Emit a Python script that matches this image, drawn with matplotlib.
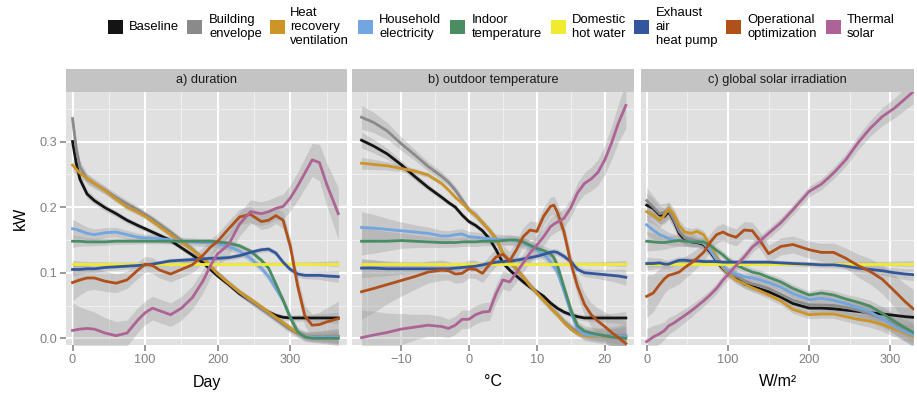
import numpy as np
import matplotlib
matplotlib.use("Agg")
import matplotlib.pyplot as plt
from matplotlib.patches import Rectangle

plt.rcParams['font.family'] = ['Liberation Sans', 'DejaVu Sans']

# ---------------- data ----------------
series = ["Baseline", "Building\nenvelope", "Heat\nrecovery\nventilation",
          "Household\nelectricity", "Indoor\ntemperature", "Domestic\nhot water",
          "Exhaust\nair\nheat pump", "Operational\noptimization", "Thermal\nsolar"]
colors = ['#141414', '#8A8A8A', '#CD9526', '#73A5E0', '#4A8D62',
          '#F0EA30', '#33579D', '#B0501B', '#AE6397']

# a) duration
days = [0, 5, 10, 20, 30, 45, 60, 75, 90, 100, 110, 120, 135, 150, 165, 180, 190, 200,
        215, 230, 245, 260, 270, 280, 290, 300, 310, 320, 330, 340, 350, 366]
a_baseline = [0.300, 0.268, 0.243, 0.220, 0.210, 0.199, 0.190, 0.180, 0.172, 0.167,
              0.162, 0.157, 0.149, 0.138, 0.127, 0.115, 0.105, 0.095, 0.082, 0.068,
              0.057, 0.046, 0.040, 0.035, 0.032, 0.031, 0.031, 0.031, 0.031, 0.031,
              0.031, 0.031]
a_building = [0.335, 0.290, 0.262, 0.243, 0.236, 0.226, 0.215, 0.205, 0.196, 0.189,
              0.182, 0.174, 0.162, 0.149, 0.136, 0.121, 0.109, 0.099, 0.084, 0.070,
              0.057, 0.045, 0.037, 0.029, 0.021, 0.013, 0.007, 0.004, 0.003, 0.003,
              0.003, 0.003]
a_hrv = [0.264, 0.258, 0.252, 0.244, 0.236, 0.225, 0.212, 0.200, 0.192, 0.186,
         0.178, 0.170, 0.158, 0.146, 0.135, 0.122, 0.110, 0.098, 0.084, 0.071,
         0.060, 0.048, 0.040, 0.032, 0.024, 0.016, 0.008, 0.004, 0.002, 0.002,
         0.002, 0.002]
a_household = [0.167, 0.166, 0.164, 0.160, 0.158, 0.161, 0.162, 0.158, 0.154, 0.153,
               0.153, 0.152, 0.150, 0.148, 0.147, 0.146, 0.146, 0.144, 0.140, 0.133,
               0.122, 0.107, 0.094, 0.076, 0.058, 0.032, 0.010, 0.003, 0.002, 0.002,
               0.002, 0.002]
a_indoor = [0.148, 0.148, 0.148, 0.147, 0.147, 0.147, 0.148, 0.148, 0.148, 0.148,
            0.148, 0.148, 0.148, 0.148, 0.148, 0.148, 0.148, 0.147, 0.145, 0.141,
            0.133, 0.119, 0.107, 0.083, 0.058, 0.031, 0.010, 0.002, 0.000, 0.000,
            0.000, 0.000]
a_dhw = [0.114] * 32
a_exhaust = [0.105, 0.105, 0.105, 0.106, 0.106, 0.108, 0.109, 0.110, 0.111, 0.112,
             0.113, 0.115, 0.118, 0.119, 0.120, 0.121, 0.122, 0.122, 0.123, 0.126,
             0.131, 0.135, 0.136, 0.130, 0.116, 0.105, 0.098, 0.096, 0.096, 0.096,
             0.095, 0.094]
a_operational = [0.085, 0.087, 0.089, 0.092, 0.092, 0.087, 0.084, 0.089, 0.104, 0.113,
                 0.111, 0.104, 0.098, 0.105, 0.112, 0.127, 0.139, 0.148, 0.167, 0.185,
                 0.189, 0.178, 0.180, 0.187, 0.180, 0.140, 0.080, 0.034, 0.020, 0.021,
                 0.025, 0.030]
a_solar = [0.012, 0.013, 0.014, 0.015, 0.014, 0.008, 0.004, 0.008, 0.028, 0.039,
           0.046, 0.042, 0.036, 0.046, 0.062, 0.088, 0.111, 0.129, 0.143, 0.174,
           0.193, 0.190, 0.193, 0.198, 0.201, 0.214, 0.232, 0.252, 0.272, 0.268,
           0.235, 0.190]
profile_a = [2.4, 2.1, 1.9, 1.6, 1.45, 1.3, 1.2, 1.1, 1.05, 1.0,
             1.0, 1.0, 1.0, 1.0, 1.0, 1.0, 1.0, 1.0, 1.0, 1.0,
             1.0, 1.0, 1.0, 1.0, 1.05, 1.1, 1.2, 1.3, 1.4, 1.55, 1.8, 2.2]
band_a = [0.004, 0.005, 0.004, 0.006, 0.004, 0.002, 0.004, 0.012, 0.018]

# b) outdoor temperature
temps = [-15.8, -14, -12, -10, -8, -6, -4, -3, -2, -1, 0, 1, 2, 3, 4, 5, 6, 7, 8, 9,
         10, 11, 12, 12.5, 13, 14, 15, 16, 17, 18, 19, 20, 21, 22, 23.1]
b_baseline = [0.302, 0.293, 0.281, 0.265, 0.247, 0.230, 0.215, 0.207, 0.200, 0.188,
              0.178, 0.172, 0.164, 0.152, 0.135, 0.115, 0.104, 0.095, 0.086, 0.078,
              0.071, 0.064, 0.054, 0.050, 0.046, 0.040, 0.036, 0.033, 0.031, 0.031,
              0.031, 0.031, 0.031, 0.031, 0.031]
b_building = [0.337, 0.329, 0.316, 0.297, 0.280, 0.262, 0.247, 0.238, 0.226, 0.211,
              0.196, 0.188, 0.176, 0.165, 0.152, 0.129, 0.117, 0.105, 0.093, 0.081,
              0.069, 0.058, 0.047, 0.042, 0.037, 0.026, 0.017, 0.010, 0.006, 0.004,
              0.004, 0.004, 0.004, 0.004, 0.004]
b_hrv = [0.267, 0.265, 0.263, 0.259, 0.255, 0.249, 0.236, 0.226, 0.215, 0.206,
         0.196, 0.187, 0.177, 0.165, 0.152, 0.130, 0.118, 0.106, 0.094, 0.080,
         0.069, 0.058, 0.047, 0.041, 0.036, 0.024, 0.014, 0.007, 0.004, 0.003,
         0.003, 0.003, 0.003, 0.003, 0.003]
b_household = [0.169, 0.168, 0.166, 0.164, 0.162, 0.160, 0.156, 0.156, 0.158, 0.159,
               0.155, 0.154, 0.153, 0.152, 0.151, 0.150, 0.150, 0.148, 0.145, 0.140,
               0.135, 0.128, 0.117, 0.110, 0.102, 0.072, 0.040, 0.014, 0.006, 0.005,
               0.004, 0.004, 0.003, 0.003, 0.003]
b_indoor = [0.148, 0.148, 0.148, 0.149, 0.148, 0.147, 0.146, 0.146, 0.146, 0.147,
            0.147, 0.147, 0.148, 0.148, 0.148, 0.149, 0.150, 0.150, 0.147, 0.142,
            0.137, 0.134, 0.129, 0.123, 0.112, 0.078, 0.044, 0.019, 0.011, 0.008,
            0.006, 0.004, 0.002, 0.001, 0.000]
b_dhw = [0.114] * 35
b_exhaust = [0.107, 0.107, 0.106, 0.106, 0.106, 0.106, 0.106, 0.106, 0.107, 0.108,
             0.109, 0.110, 0.112, 0.114, 0.116, 0.117, 0.118, 0.119, 0.121, 0.123,
             0.125, 0.128, 0.131, 0.132, 0.131, 0.125, 0.117, 0.105, 0.100, 0.099,
             0.098, 0.097, 0.096, 0.095, 0.093]
b_operational = [0.071, 0.076, 0.082, 0.088, 0.094, 0.101, 0.104, 0.103, 0.098, 0.099,
                 0.106, 0.105, 0.099, 0.112, 0.124, 0.128, 0.118, 0.135, 0.155, 0.165,
                 0.163, 0.186, 0.201, 0.203, 0.193, 0.162, 0.115, 0.079, 0.052, 0.036,
                 0.026, 0.018, 0.009, 0.001, -0.008]
b_solar = [0.001, 0.005, 0.009, 0.014, 0.017, 0.020, 0.018, 0.015, 0.020, 0.029,
           0.029, 0.036, 0.040, 0.041, 0.068, 0.089, 0.086, 0.100, 0.115, 0.130,
           0.142, 0.155, 0.170, 0.174, 0.177, 0.183, 0.199, 0.222, 0.236, 0.243,
           0.253, 0.272, 0.298, 0.328, 0.355]
profile_b = [3.0, 2.6, 2.1, 1.7, 1.4, 1.2, 1.1, 1.0, 1.0, 1.0,
             1.0, 1.0, 1.0, 1.0, 1.0, 1.0, 1.0, 1.0, 1.0, 1.0,
             1.0, 1.0, 1.0, 1.0, 1.0, 1.0, 1.0, 1.1, 1.2, 1.3,
             1.4, 1.6, 1.8, 2.1, 2.5]
band_b = [0.004, 0.006, 0.003, 0.008, 0.007, 0.002, 0.005, 0.014, 0.014]

# c) global solar irradiation
irr = [0, 8, 16, 22, 27, 33, 40, 47, 55, 62, 70, 78, 86, 94, 100, 110, 120, 130, 140,
       150, 165, 180, 200, 215, 230, 245, 260, 275, 290, 305, 318, 328]
c_baseline = [0.203, 0.198, 0.188, 0.186, 0.193, 0.180, 0.160, 0.150, 0.147, 0.146,
              0.143, 0.132, 0.118, 0.106, 0.100, 0.092, 0.083, 0.079, 0.075, 0.071,
              0.063, 0.053, 0.046, 0.046, 0.045, 0.043, 0.041, 0.039, 0.037, 0.035,
              0.033, 0.032]
c_building = [0.210, 0.200, 0.190, 0.192, 0.195, 0.182, 0.163, 0.153, 0.150, 0.148,
              0.145, 0.134, 0.120, 0.108, 0.102, 0.095, 0.088, 0.083, 0.080, 0.076,
              0.067, 0.058, 0.051, 0.051, 0.050, 0.047, 0.043, 0.037, 0.030, 0.022,
              0.012, 0.005]
c_hrv = [0.193, 0.188, 0.180, 0.188, 0.198, 0.190, 0.172, 0.162, 0.160, 0.163,
         0.158, 0.142, 0.124, 0.107, 0.100, 0.089, 0.083, 0.077, 0.072, 0.066,
         0.057, 0.044, 0.036, 0.037, 0.037, 0.033, 0.029, 0.026, 0.021, 0.014,
         0.008, 0.003]
c_household = [0.173, 0.165, 0.158, 0.155, 0.152, 0.150, 0.149, 0.148, 0.148, 0.147,
               0.145, 0.135, 0.120, 0.110, 0.103, 0.098, 0.094, 0.092, 0.089, 0.085,
               0.078, 0.068, 0.059, 0.061, 0.058, 0.053, 0.047, 0.040, 0.030, 0.018,
               0.010, 0.005]
c_indoor = [0.148, 0.147, 0.146, 0.146, 0.147, 0.148, 0.149, 0.148, 0.147, 0.147,
            0.147, 0.142, 0.134, 0.127, 0.120, 0.112, 0.106, 0.101, 0.098, 0.093,
            0.086, 0.076, 0.066, 0.069, 0.066, 0.060, 0.055, 0.049, 0.038, 0.026,
            0.016, 0.009]
c_dhw = [0.114] * 32
c_exhaust = [0.114, 0.114, 0.115, 0.113, 0.113, 0.116, 0.119, 0.119, 0.118, 0.118,
             0.117, 0.117, 0.117, 0.116, 0.116, 0.116, 0.116, 0.116, 0.116, 0.116,
             0.115, 0.114, 0.113, 0.112, 0.112, 0.110, 0.107, 0.105, 0.103, 0.100,
             0.098, 0.097]
c_operational = [0.064, 0.069, 0.082, 0.091, 0.096, 0.098, 0.101, 0.108, 0.115, 0.122,
                 0.131, 0.146, 0.158, 0.162, 0.158, 0.154, 0.165, 0.164, 0.148, 0.129,
                 0.140, 0.143, 0.135, 0.131, 0.131, 0.122, 0.111, 0.102, 0.090, 0.072,
                 0.056, 0.045]
c_solar = [-0.005, 0.002, 0.007, 0.012, 0.019, 0.023, 0.029, 0.035, 0.042, 0.049,
           0.057, 0.066, 0.076, 0.089, 0.097, 0.111, 0.124, 0.139, 0.149, 0.160,
           0.176, 0.196, 0.224, 0.235, 0.252, 0.272, 0.298, 0.320, 0.338, 0.351,
           0.365, 0.376]
profile_c = [2.5, 2.2, 1.9, 1.7, 1.6, 1.5, 1.4, 1.3, 1.2, 1.1,
             1.05, 1.0, 1.0, 1.0, 1.0, 1.0, 1.0, 1.0, 1.0, 1.0,
             1.0, 1.0, 1.0, 1.05, 1.1, 1.2, 1.35, 1.5, 1.7, 1.9, 2.1, 2.3]
band_c = [0.007, 0.008, 0.006, 0.006, 0.006, 0.002, 0.004, 0.013, 0.008]

y_ticks = [0.0, 0.1, 0.2, 0.3]
y_ticklabels = ["0.0", "0.1", "0.2", "0.3"]

panels = [
    dict(title="a) duration", xlabel="Day", x=days,
         ys=[a_baseline, a_building, a_hrv, a_household, a_indoor, a_dhw,
             a_exhaust, a_operational, a_solar],
         profile=profile_a, band=band_a,
         xticks=[0, 100, 200, 300], xminor=[50, 150, 250, 350], xlim=(-9, 378),
         box=(66, 347)),
    dict(title="b) outdoor temperature", xlabel="°C", x=temps,
         ys=[b_baseline, b_building, b_hrv, b_household, b_indoor, b_dhw,
             b_exhaust, b_operational, b_solar],
         profile=profile_b, band=band_b,
         xticks=[-10, 0, 10, 20], xminor=[-15, -5, 5, 15], xlim=(-17.2, 24.3),
         box=(352, 634)),
    dict(title="c) global solar irradiation", xlabel="W/m²", x=irr,
         ys=[c_baseline, c_building, c_hrv, c_household, c_indoor, c_dhw,
             c_exhaust, c_operational, c_solar],
         profile=profile_c, band=band_c,
         xticks=[0, 100, 200, 300], xminor=[50, 150, 250], xlim=(-7, 329),
         box=(641, 914)),
]

# ---------------- figure ----------------
W, H = 917, 395
fig = plt.figure(figsize=(W / 100, H / 100), dpi=100)
fig.patch.set_facecolor('white')

def fx(px):
    return px / W

def fy(py):
    return 1 - py / H

top_px, bot_px = 92, 345
strip_top = 69
ylim = (-0.0102, 0.3755)

for i, p in enumerate(panels):
    l, r = p["box"]
    ax = fig.add_axes([fx(l), fy(bot_px), (r - l) / W, (bot_px - top_px) / H])
    ax.set_facecolor('#E0E0E0')
    for s in ax.spines.values():
        s.set_visible(False)
    ax.set_xlim(*p["xlim"])
    ax.set_ylim(*ylim)
    ax.set_xticks(p["xticks"])
    ax.set_xticks(p["xminor"], minor=True)
    ax.set_yticks(y_ticks)
    ax.set_yticks([0.05, 0.15, 0.25, 0.35], minor=True)
    ax.grid(which='major', color='white', lw=1.5)
    ax.grid(which='minor', color='#F0F0F0', lw=0.7)
    ax.set_axisbelow(True)
    ax.tick_params(which='major', length=4.5, width=1.1, color='#7F7F7F',
                   labelcolor='#7F7F7F', labelsize=9.2, pad=2)
    ax.tick_params(which='minor', length=0)
    if i == 0:
        ax.set_yticklabels(y_ticklabels)
    else:
        ax.tick_params(axis='y', which='major', length=0, labelleft=False)

    x = np.array(p["x"], dtype=float)
    prof = np.array(p["profile"])
    for k, (yv, col) in enumerate(zip(p["ys"], colors)):
        yv = np.array(yv)
        ci = p["band"][k] * prof
        ax.fill_between(x, yv - ci, yv + ci, color='#999999', alpha=0.34, lw=0)
        ax.plot(x, yv, color=col, lw=2.0, solid_joinstyle='round')

    # strip
    fig.add_artist(Rectangle((fx(l), fy(top_px)), (r - l) / W, (top_px - strip_top) / H,
                             transform=fig.transFigure, facecolor='#C4C4C4',
                             edgecolor='none'))
    fig.text(fx((l + r) / 2), fy((top_px + strip_top) / 2), p["title"],
             ha='center', va='center', fontsize=9.2, color='#1A1A1A')
    fig.text(fx((l + r) / 2), fy(382), p["xlabel"], ha='center', va='center',
             fontsize=11.5, color='black')

fig.text(fx(20), fy(218), "kW", rotation=90, ha='center', va='center',
         fontsize=11.5, color='black')

# legend
key_left = [108, 187, 270, 358, 450, 551, 634, 726, 826]
text_left = [129, 209, 290, 379, 472, 572, 656, 747, 847]
key_cy = 27
for kl, tl, lab, col in zip(key_left, text_left, series, colors):
    fig.add_artist(Rectangle((fx(kl), fy(key_cy + 7)), 15 / W, 14 / H,
                             transform=fig.transFigure, facecolor=col,
                             edgecolor='none'))
    fig.text(fx(tl), fy(key_cy), lab, ha='left', va='center', fontsize=9.4,
             linespacing=1.2, color='black')

fig.savefig("out.png", dpi=100, facecolor='white')
